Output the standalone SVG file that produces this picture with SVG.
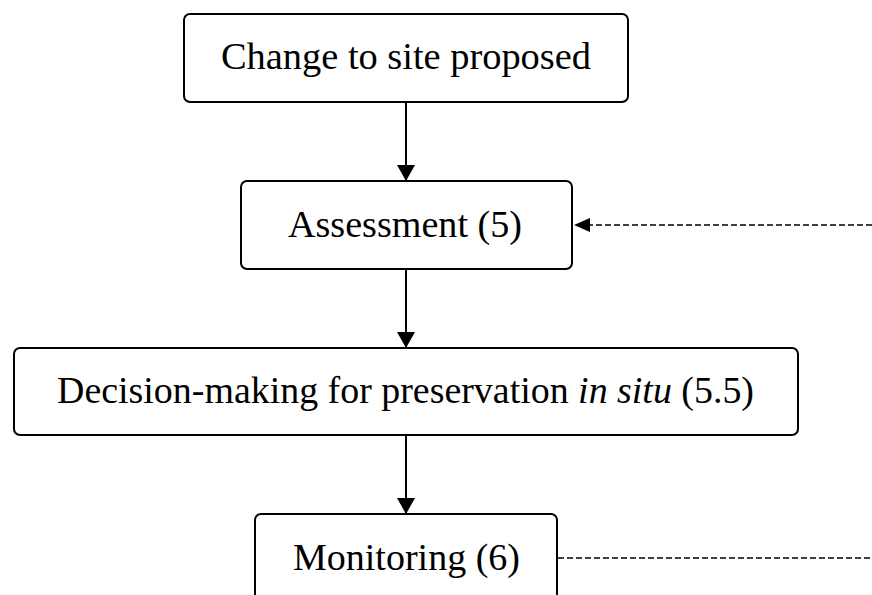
<svg xmlns="http://www.w3.org/2000/svg" width="872" height="595" viewBox="0 0 872 595">
  <defs>
    <marker id="arrow" markerWidth="16" markerHeight="18" refX="15" refY="9" orient="auto" markerUnits="userSpaceOnUse">
      <path d="M0,0 L16,9 L0,18 Z" fill="#000"/>
    </marker>
    <marker id="arrowSmall" markerWidth="16" markerHeight="14" refX="15" refY="7" orient="auto" markerUnits="userSpaceOnUse">
      <path d="M0,0 L16,7 L0,14 Z" fill="#000"/>
    </marker>
  </defs>
  <style>
    .box { fill: #fff; stroke: #000; stroke-width: 2; }
    .label { font-family: "Liberation Serif", "DejaVu Serif", serif; font-size: 37px; fill: #000; text-anchor: middle; }
    .flow { stroke: #000; stroke-width: 2; fill: none; }
    .feedback { stroke: #000; stroke-width: 1.5; fill: none; stroke-dasharray: 6 3; }
  </style>
  <rect width="872" height="595" fill="#fff"/>

  <g id="connectors">
    <line class="flow" x1="406" y1="102" x2="406" y2="180" marker-end="url(#arrow)"/>
    <line class="flow" x1="406" y1="269" x2="406" y2="347" marker-end="url(#arrow)"/>
    <line class="flow" x1="406" y1="435" x2="406" y2="513" marker-end="url(#arrow)"/>
    <line class="feedback" x1="872" y1="225" x2="575" y2="225" marker-end="url(#arrowSmall)"/>
    <line class="feedback" x1="558" y1="558" x2="872" y2="558"/>
  </g>

  <g id="change-proposed">
    <rect class="box" x="184" y="14" width="444" height="88" rx="6"/>
    <text class="label" x="406" y="69" textLength="370" lengthAdjust="spacingAndGlyphs">Change to site proposed</text>
  </g>

  <g id="assessment">
    <rect class="box" x="241" y="181" width="331" height="88" rx="6"/>
    <text class="label" x="405" y="237" textLength="234" lengthAdjust="spacingAndGlyphs">Assessment (5)</text>
  </g>

  <g id="decision-making">
    <rect class="box" x="14" y="348" width="784" height="87" rx="6"/>
    <text class="label" x="405.5" y="403" textLength="697" lengthAdjust="spacingAndGlyphs">Decision-making for preservation <tspan font-style="italic">in situ</tspan> (5.5)</text>
  </g>

  <g id="monitoring">
    <rect class="box" x="255" y="514" width="302" height="100" rx="6"/>
    <text class="label" x="406.5" y="570" textLength="227" lengthAdjust="spacingAndGlyphs">Monitoring (6)</text>
  </g>
</svg>
